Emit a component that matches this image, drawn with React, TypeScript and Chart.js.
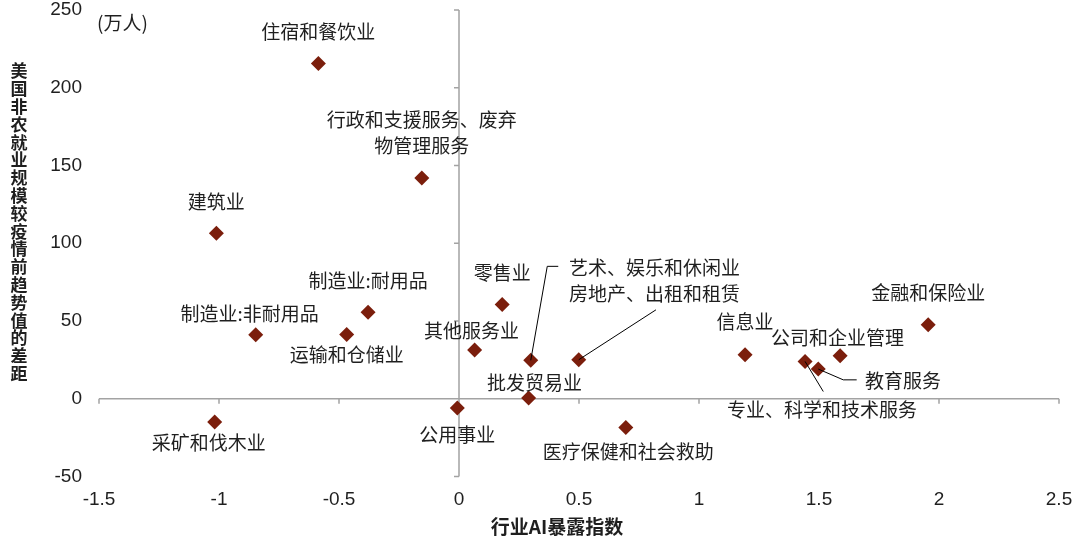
import { useEffect, useRef } from 'react'
import { Chart, ScatterController, PointElement, LinearScale, type ChartConfiguration, type Plugin } from 'chart.js'

Chart.register(ScatterController, PointElement, LinearScale)

// AI exposure vs. US payroll gap to pre-pandemic trend, by industry

const industries = [
  '住宿和餐饮业',
  '行政和支援服务、废弃\n物管理服务',
  '建筑业',
  '制造业:耐用品',
  '制造业:非耐用品',
  '运输和仓储业',
  '零售业',
  '其他服务业',
  '艺术、娱乐和休闲业',
  '批发贸易业',
  '公用事业',
  '采矿和伐木业',
  '房地产、出租和租赁',
  '医疗保健和社会救助',
  '信息业',
  '专业、科学和技术服务',
  '教育服务',
  '公司和企业管理',
  '金融和保险业',
]
const aiExposure = [-0.586, -0.155, -1.011, -0.379, -0.847, -0.468, 0.18, 0.065, 0.299, 0.29, -0.007, -1.018, 0.499, 0.695, 1.192, 1.442, 1.497, 1.588, 1.955]
const jobsGap = [215.6, 142, 106.4, 55.6, 41.2, 41.3, 60.6, 31.3, 24.7, 0.5, -5.9, -14.9, 25.1, -18.5, 28.3, 24, 19.1, 27.7, 47.6]

const xTicks = [-1.5, -1, -0.5, 0, 0.5, 1, 1.5, 2, 2.5]
const yTicks = [-50, 0, 50, 100, 150, 200, 250]
const xTitle = '行业AI暴露指数'
const yTitle = '美国非农就业规模较疫情前趋势值的差距'
const yUnit = '(万人)'

// label placement, px offsets from each marker (same order as industries)
type LabelPos = { dx: number; dy: number; align?: CanvasTextAlign; leader?: [number, number][] }
const labelPos: LabelPos[] = [
  { dx: 0, dy: -32 },
  { dx: 0, dy: -57.7 },
  { dx: 0, dy: -32 },
  { dx: 0, dy: -32 },
  { dx: -6, dy: -21 },
  { dx: 0, dy: 20 },
  { dx: 0, dy: -32 },
  { dx: -3, dy: -19 },
  { dx: 38.2, dy: -93, align: 'left', leader: [[16.5, -94], [27.5, -94]] },
  { dx: 6, dy: -15 },
  { dx: 0, dy: 26.6 },
  { dx: -6, dy: 21 },
  { dx: -9.8, dy: -66.2, align: 'left', leader: [[77.2, -49.9]] },
  { dx: 2.5, dy: 24 },
  { dx: 0, dy: -32.5 },
  { dx: -78, dy: 48, align: 'left', leader: [[18.2, 30.1]] },
  { dx: 46.7, dy: 11.5, align: 'left', leader: [[25, 10.8], [38.4, 10.8]] },
  { dx: -2.5, dy: -18 },
  { dx: 0, dy: -31.5 },
]

const MARKER = '#7b1e0c'
const AXIS = '#a3a3a3'
const TEXT = '#1f1f1f'
const CJK = '"Noto Sans CJK SC", "Liberation Sans", sans-serif'
const NUM = '"Liberation Sans", Arial, sans-serif'

const overlay: Plugin<'scatter'> = {
  id: 'overlay',
  beforeDatasetsDraw(chart) {
    const { ctx } = chart
    const x = chart.scales.x
    const y = chart.scales.y
    const x0 = x.getPixelForValue(0)
    const y0 = y.getPixelForValue(0)
    ctx.save()
    ctx.strokeStyle = AXIS
    ctx.lineWidth = 1.5
    ctx.beginPath()
    ctx.moveTo(x0, y.getPixelForValue(yTicks[0]))
    ctx.lineTo(x0, y.getPixelForValue(yTicks[yTicks.length - 1]))
    yTicks.forEach(v => {
      const p = y.getPixelForValue(v)
      ctx.moveTo(x0 - 5, p)
      ctx.lineTo(x0, p)
    })
    ctx.moveTo(x.getPixelForValue(xTicks[0]), y0)
    ctx.lineTo(x.getPixelForValue(xTicks[xTicks.length - 1]), y0)
    xTicks.forEach(v => {
      const p = x.getPixelForValue(v)
      ctx.moveTo(p, y0)
      ctx.lineTo(p, y0 + 5)
    })
    ctx.stroke()
    ctx.restore()
  },
  afterDatasetsDraw(chart) {
    const { ctx } = chart
    const meta = chart.getDatasetMeta(0)
    ctx.save()

    // leader lines
    ctx.strokeStyle = '#000'
    ctx.lineWidth = 1
    meta.data.forEach((pt, i) => {
      const lp = labelPos[i]
      if (!lp.leader) return
      ctx.beginPath()
      ctx.moveTo(pt.x, pt.y)
      lp.leader.forEach(([dx, dy]) => ctx.lineTo(pt.x + dx, pt.y + dy))
      ctx.stroke()
    })

    // point labels
    ctx.fillStyle = TEXT
    ctx.font = `19px ${CJK}`
    ctx.textBaseline = 'middle'
    meta.data.forEach((pt, i) => {
      const lp = labelPos[i]
      ctx.textAlign = lp.align ?? 'center'
      industries[i].split('\n').forEach((line, k) => {
        ctx.fillText(line, pt.x + lp.dx, pt.y + lp.dy + k * 25.5)
      })
    })

    // unit
    ctx.textAlign = 'left'
    ctx.fillText(yUnit, 97, 23)

    // axis titles
    ctx.font = `bold 19px ${CJK}`
    ctx.textAlign = 'center'
    ctx.fillText(xTitle, 557, 527)
    ctx.font = `bold 17px ${CJK}`
    Array.from(yTitle).forEach((ch, k) => {
      ctx.fillText(ch, 19, 71 + k * 17.8)
    })
    ctx.restore()
  },
}

export default function App() {
  const canvasRef = useRef<HTMLCanvasElement>(null)
  const chartRef = useRef<Chart<'scatter'> | null>(null)

  useEffect(() => {
    document.body.style.margin = '0'
    if (!canvasRef.current) return
    if (chartRef.current) { chartRef.current.destroy(); chartRef.current = null }

    const config: ChartConfiguration<'scatter'> = {
      type: 'scatter',
      data: {
        datasets: [{
          label: 'industries',
          data: aiExposure.map((v, i) => ({ x: v, y: jobsGap[i] })),
          pointStyle: 'rectRot',
          pointRadius: 7.5,
          pointHoverRadius: 7.5,
          backgroundColor: MARKER,
          borderColor: MARKER,
          borderWidth: 0,
        }],
      },
      options: {
        responsive: true,
        maintainAspectRatio: false,
        animation: false,
        events: [],
        layout: { padding: { top: 10, right: 21, left: 0, bottom: 0 } },
        scales: {
          x: {
            type: 'linear',
            min: xTicks[0],
            max: xTicks[xTicks.length - 1],
            grid: { display: false },
            border: { display: false },
            afterBuildTicks: (s) => { s.ticks = xTicks.map(v => ({ value: v })) },
            afterFit: (s) => { s.height = 64.5; s.paddingLeft = 0; s.paddingRight = 0 },
            ticks: {
              color: TEXT,
              padding: 4,
              maxRotation: 0,
              autoSkip: false,
              font: { size: 19, family: NUM },
              callback: (v) => String(v),
            },
          },
          y: {
            type: 'linear',
            min: yTicks[0],
            max: yTicks[yTicks.length - 1],
            grid: { display: false },
            border: { display: false },
            afterBuildTicks: (s) => { s.ticks = yTicks.map(v => ({ value: v })) },
            afterFit: (s) => { s.width = 99; s.paddingTop = 0; s.paddingBottom = 0 },
            ticks: {
              color: TEXT,
              padding: 9,
              autoSkip: false,
              font: { size: 19, family: NUM },
              callback: (v) => String(v),
            },
          },
        },
        plugins: {
          legend: { display: false },
          tooltip: { enabled: false },
        },
      },
      plugins: [overlay],
    }
    chartRef.current = new Chart(canvasRef.current, config)
    return () => { chartRef.current?.destroy(); chartRef.current = null }
  }, [])

  return (
    <div style={{ position: 'absolute', left: 0, top: 0, width: 1080, height: 541, background: '#fff' }}>
      <canvas ref={canvasRef} />
    </div>
  )
}
